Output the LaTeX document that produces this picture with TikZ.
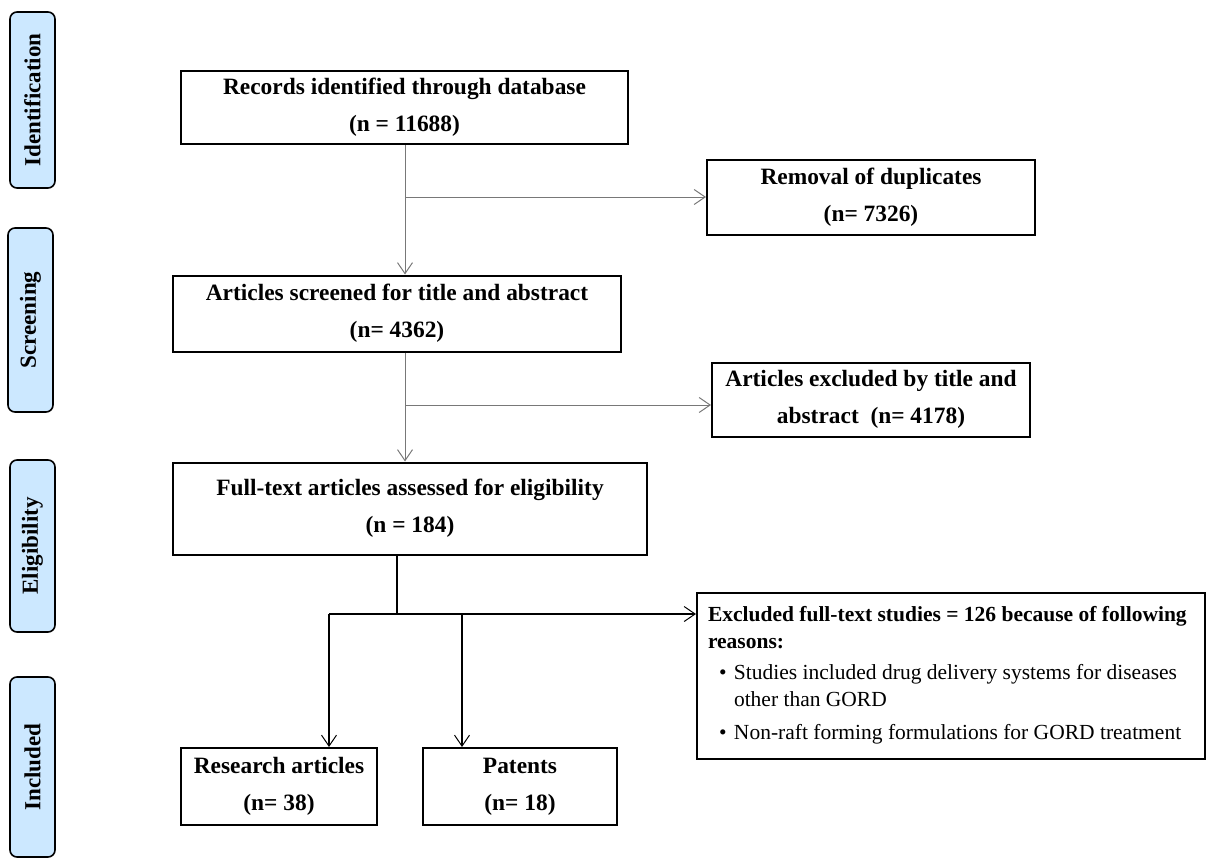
\documentclass[tikz,border=0pt]{standalone}
\usepackage{fontspec}
\setmainfont{Liberation Serif}
\usetikzlibrary{arrows.meta}
\definecolor{sideblue}{RGB}{204,232,255}
\definecolor{arrgray}{RGB}{120,120,120}
\tikzset{
  sidebox/.style={draw=black, line width=1.6pt, rounded corners=7pt, fill=sideblue,
    rotate=90, minimum height=45pt, inner sep=0pt,
    font=\fontsize{23}{23}\selectfont\bfseries},
  mainbox/.style={draw=black, line width=2pt, align=center, inner sep=0pt,
    font=\fontsize{23.4}{37}\selectfont\bfseries},
  exbox/.style={draw=black, line width=2pt, inner sep=0pt, align=left},
  garr/.style={draw=arrgray, line width=1pt, -{Straight Barb[length=11pt,width=15pt,line width=1pt]}},
  karr/.style={draw=black, line width=1.3pt, -{Straight Barb[length=11pt,width=15pt,line width=1pt]}},
  kline/.style={draw=black, line width=1.3pt},
}
\begin{document}
\begin{tikzpicture}[x=1pt,y=-1pt]
\useasboundingbox (0,0) rectangle (1210,859);

% stage labels
\node[sidebox, minimum width=176pt] (ident) at (32.5,100) {Identification};
\node[sidebox, minimum width=184pt] (scr) at (30.5,320) {Screening};
\node[sidebox, minimum width=172pt] (eli) at (32.5,546) {Eligibility};
\node[sidebox, minimum width=180pt] (inc) at (32.5,767) {Included};

% boxes
\node[mainbox, minimum width=447pt, minimum height=73pt] (b1) at (404.5,107.5)
  {Records identified through database\\(n = 11688)};
\node[mainbox, minimum width=328pt, minimum height=75pt] (rem) at (871,197)
  {Removal of duplicates\\(n= 7326)};
\node[mainbox, minimum width=448pt, minimum height=76pt] (b2) at (397,313.5)
  {Articles screened for title and abstract\\(n= 4362)};
\node[mainbox, minimum width=318pt, minimum height=74pt] (exta) at (871,399.5)
  {Articles excluded by title and\\abstract\ \ (n= 4178)};
\node[mainbox, minimum width=474pt, minimum height=92pt] (b3) at (410,508.5)
  {Full-text articles assessed for eligibility\\(n = 184)};
\node[exbox, minimum width=508pt, minimum height=166pt] (exft) at (951,675.5) {%
  \parbox{486pt}{\fontsize{21.5}{27}\selectfont\raggedright\parindent=0pt
  {\bfseries Excluded full-text studies = 126 because of following reasons:}\par
  \vspace{4pt}
  \hangindent=26pt\hangafter=1
  \hspace*{11pt}\makebox[15pt][l]{\textbullet}Studies included drug delivery systems for diseases other than GORD\par
  \vspace{6pt}
  \hspace*{11pt}\makebox[15pt][l]{\textbullet}Non-raft forming formulations for GORD treatment\par}};
\node[mainbox, minimum width=196pt, minimum height=77pt] (res) at (279,786.5)
  {Research articles\\(n= 38)};
\node[mainbox, minimum width=194pt, minimum height=77pt] (pat) at (520,786.5)
  {Patents\\(n= 18)};

% junction points
\coordinate (t1) at (405,0);
\coordinate (j1) at (405,197);
\coordinate (j2) at (405,405);
\coordinate (t3) at (397,0);
\coordinate (sl) at (329,614);
\coordinate (sm) at (397,614);
\coordinate (sp) at (462,614);

% connectors
\draw[garr] (t1 |- b1.south) -- (t1 |- b2.north);
\draw[garr] (j1) -- (j1 -| rem.west);
\draw[garr] (t1 |- b2.south) -- (t1 |- b3.north);
\draw[garr] (j2) -- (j2 -| exta.west);
\draw[kline] (t3 |- b3.south) -- (sm);
\draw[karr] (sl) -- (sl -| exft.west);
\draw[karr] (sl) -- (sl |- res.north);
\draw[karr] (sp) -- (sp |- pat.north);
\end{tikzpicture}
\end{document}
